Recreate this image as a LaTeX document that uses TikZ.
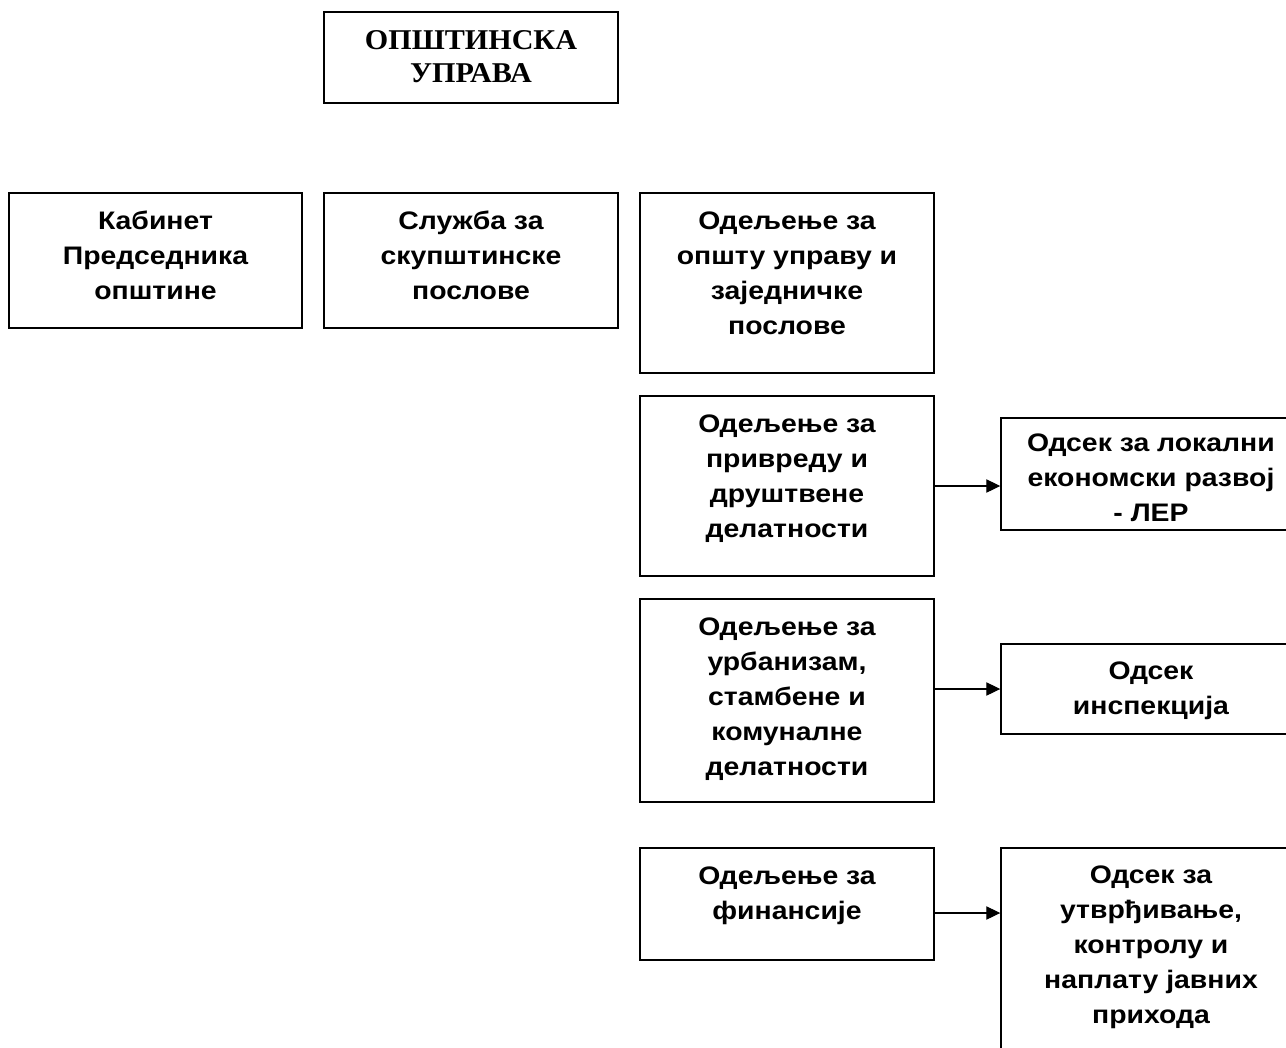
\documentclass[tikz,border=0pt]{standalone}
\usepackage{fontspec}
\setmainfont[FakeStretch=1.12]{Liberation Sans}
\newfontfamily\tnr[FakeStretch=1.05]{Liberation Serif}
\usetikzlibrary{arrows.meta}
\begin{document}
\begin{tikzpicture}[x=0.75pt,y=-0.75pt,
  box/.style={draw=black,line width=1.1pt,inner sep=0pt,fill=none},
  lbl/.style={align=center,inner sep=0pt,anchor=base,font=\bfseries\fontsize{19}{26.3}\selectfont},
  ttl/.style={align=center,inner sep=0pt,anchor=base,font=\tnr\bfseries\fontsize{21.5}{24.75}\selectfont},
  arr/.style={line width=0.8pt,-{Triangle[length=10.5pt,width=10pt]}}]
\useasboundingbox[fill=white] (0,0) rectangle (1286,1047);
% boxes (sizes in px)
\node[box,minimum width=294*0.75pt,minimum height=91*0.75pt] (top) at (471,57.5) {};
\node[box,minimum width=293*0.75pt,minimum height=135*0.75pt] (kab) at (155.5,260.5) {};
\node[box,minimum width=294*0.75pt,minimum height=135*0.75pt] (slu) at (471,260.5) {};
\node[box,minimum width=294*0.75pt,minimum height=180*0.75pt] (opu) at (787,283) {};
\node[box,minimum width=294*0.75pt,minimum height=180*0.75pt] (pri) at (787,486) {};
\node[box,minimum width=294*0.75pt,minimum height=203*0.75pt] (urb) at (787,700.5) {};
\node[box,minimum width=294*0.75pt,minimum height=112*0.75pt] (fin) at (787,904) {};
\node[box,minimum width=300*0.75pt,minimum height=112*0.75pt] (ler) at (1151,474) {};
\node[box,minimum width=300*0.75pt,minimum height=90*0.75pt] (ins) at (1151,689) {};
\node[box,minimum width=300*0.75pt,minimum height=230*0.75pt] (utv) at (1151,963) {};
% labels (anchored at the baseline of the last line)
\node[ttl] (ttop) at ([yshift=-71*0.75pt]top.north) {ОПШТИНСКА\\УПРАВА};
\node[lbl] (tkab) at ([yshift=-107.1*0.75pt]kab.north) {Кабинет\\Председника\\општине};
\node[lbl] (tslu) at ([yshift=-107.1*0.75pt]slu.north) {Служба за\\скупштинске\\послове};
\node[lbl] (topu) at ([yshift=-142.2*0.75pt]opu.north) {Одељење за\\општу управу и\\заједничке\\послове};
\node[lbl] (tpri) at ([yshift=-142.2*0.75pt]pri.north) {Одељење за\\привреду и\\друштвене\\делатности};
\node[lbl] (turb) at ([yshift=-177.3*0.75pt]urb.north) {Одељење за\\урбанизам,\\стамбене и\\комуналне\\делатности};
\node[lbl] (tfin) at ([yshift=-72.1*0.75pt]fin.north) {Одељење за\\финансије};
\node[lbl] (tler) at ([yshift=-104.1*0.75pt]ler.north) {Одсек за локални\\економски развој\\- ЛЕР};
\node[lbl] (tins) at ([yshift=-71.1*0.75pt]ins.north) {Одсек\\инспекција};
\node[lbl] (tutv) at ([yshift=-176.3*0.75pt]utv.north) {Одсек за\\утврђивање,\\контролу и\\наплату јавних\\прихода};
% arrows
\draw[arr] (pri.east) -- (ler.west |- pri.east);
\draw[arr] (urb.east |- ins.west) -- (ins.west);
\coordinate (fy) at (0,913);
\draw[arr] (fin.east |- fy) -- (utv.west |- fy);
\end{tikzpicture}
\end{document}
